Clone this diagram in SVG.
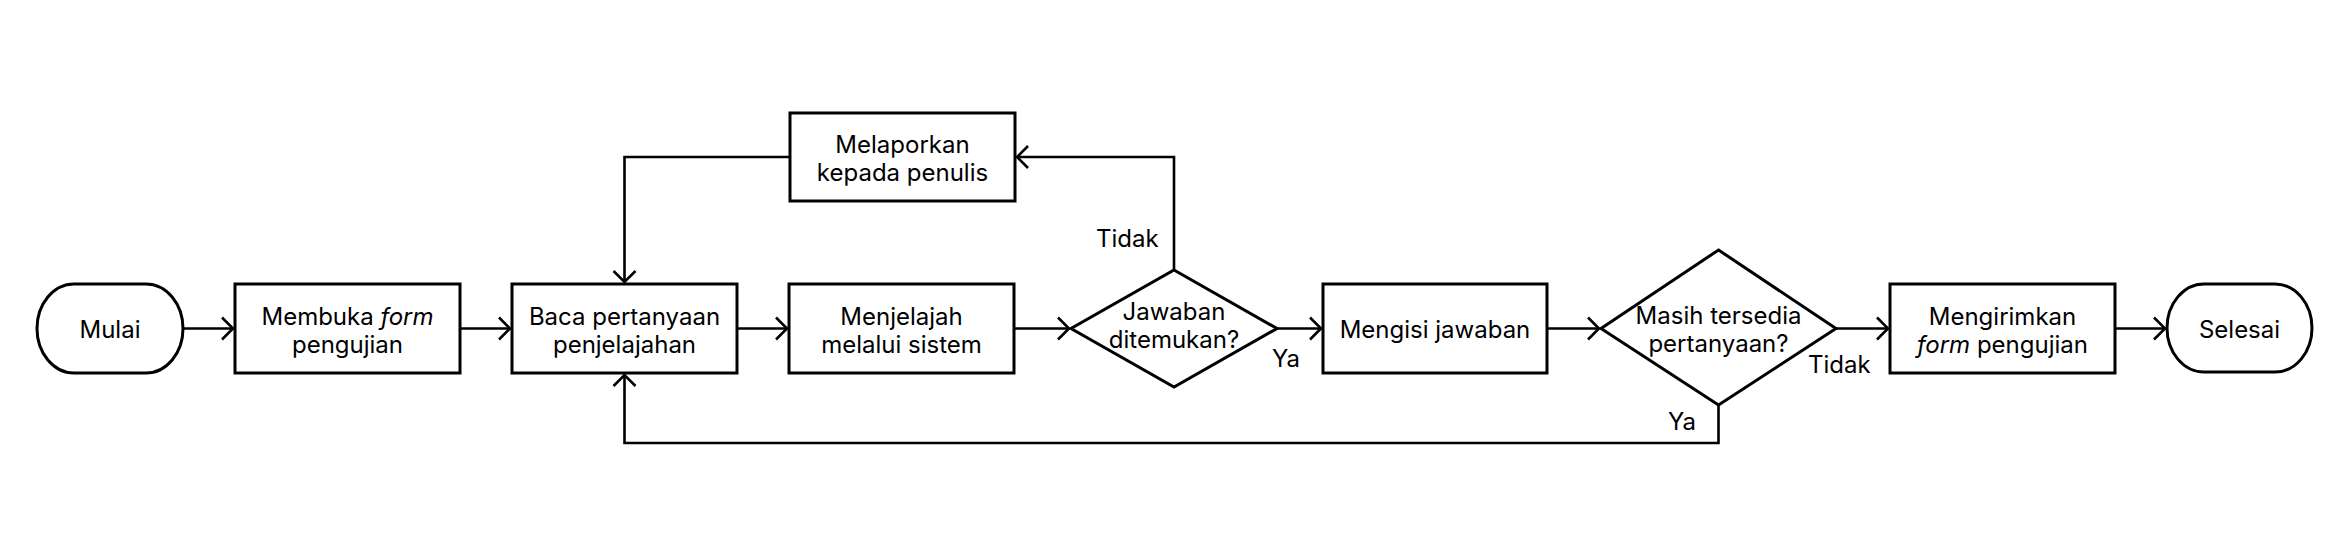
<svg xmlns="http://www.w3.org/2000/svg" width="2348" height="555" viewBox="0 0 2348 555">
<style>
.shape{fill:#fff;stroke:#000;stroke-width:3}
.conn{fill:none;stroke:#000;stroke-width:2.6}
text{font-family:Inter,"Liberation Sans",sans-serif;font-size:24px;fill:#000;text-anchor:middle}
.lbl{text-anchor:start}
.it{font-style:italic}
</style>
<defs>
<marker id="arr" viewBox="-14 -14 17 28" refX="0" refY="0" markerWidth="17" markerHeight="28" orient="auto" markerUnits="userSpaceOnUse">
<path d="M-11,-11 L0,0 L-11,11" fill="none" stroke="#000" stroke-width="2.6"/>
</marker>
</defs>
<rect width="2348" height="555" fill="#fff"/>
<g id="connectors">
<path class="conn" d="M183,328.5 H233" marker-end="url(#arr)"/>
<path class="conn" d="M460,328.5 H510" marker-end="url(#arr)"/>
<path class="conn" d="M737,328.5 H787" marker-end="url(#arr)"/>
<path class="conn" d="M1014,328.5 H1069" marker-end="url(#arr)"/>
<path class="conn" d="M1277,328.5 H1321" marker-end="url(#arr)"/>
<path class="conn" d="M1547,328.5 H1599" marker-end="url(#arr)"/>
<path class="conn" d="M1836,328.5 H1888" marker-end="url(#arr)"/>
<path class="conn" d="M2114,328.5 H2165" marker-end="url(#arr)"/>
<path class="conn" d="M1174,270 V157 H1017" marker-end="url(#arr)"/>
<path class="conn" d="M790,157 H624.5 V282" marker-end="url(#arr)"/>
<path class="conn" d="M1718.5,405 V443 H624.5 V375" marker-end="url(#arr)"/>
<text class="lbl" x="1096" y="247">Tidak</text>
<text class="lbl" x="1272" y="367">Ya</text>
<text class="lbl" x="1808" y="373">Tidak</text>
<text class="lbl" x="1668" y="430">Ya</text>
</g>
<g id="mulai">
<rect class="shape" x="37" y="284" width="146" height="89" rx="37" ry="44.5"/>
<text x="110" y="337.5">Mulai</text>
</g>
<g id="membuka">
<rect class="shape" x="235" y="284" width="225" height="89"/>
<text x="347.5" y="324.5">Membuka <tspan class="it">form</tspan></text>
<text x="347.5" y="352.5">pengujian</text>
</g>
<g id="baca">
<rect class="shape" x="512" y="284" width="225" height="89"/>
<text x="624.5" y="324.5">Baca pertanyaan</text>
<text x="624.5" y="352.5">penjelajahan</text>
</g>
<g id="menjelajah">
<rect class="shape" x="789" y="284" width="225" height="89"/>
<text x="901.5" y="324.5">Menjelajah</text>
<text x="901.5" y="352.5">melalui sistem</text>
</g>
<g id="melaporkan">
<rect class="shape" x="790" y="113" width="225" height="88"/>
<text x="902.5" y="152.5">Melaporkan</text>
<text x="902.5" y="180.5">kepada penulis</text>
</g>
<g id="jawaban">
<polygon class="shape" points="1174,270 1277,328.5 1174,387 1071,328.5"/>
<text x="1174" y="319.5">Jawaban</text>
<text x="1174" y="347.5">ditemukan?</text>
</g>
<g id="mengisi">
<rect class="shape" x="1323" y="284" width="224" height="89"/>
<text x="1435" y="337.5">Mengisi jawaban</text>
</g>
<g id="masih">
<polygon class="shape" points="1718.5,250 1836,328.5 1718.5,405 1601,328.5"/>
<text x="1718.5" y="323.5">Masih tersedia</text>
<text x="1718.5" y="351.5">pertanyaan?</text>
</g>
<g id="mengirimkan">
<rect class="shape" x="1890" y="284" width="225" height="89"/>
<text x="2002.5" y="324.5">Mengirimkan</text>
<text x="2002.5" y="352.5"><tspan class="it">form</tspan> pengujian</text>
</g>
<g id="selesai">
<rect class="shape" x="2167" y="284" width="145" height="88" rx="37" ry="44"/>
<text x="2239.5" y="337.5">Selesai</text>
</g>
</svg>
